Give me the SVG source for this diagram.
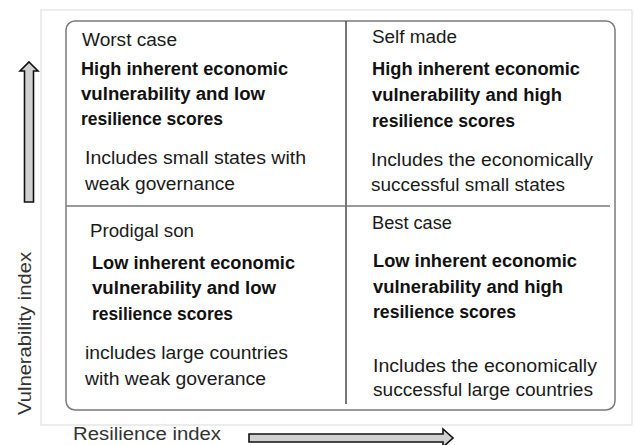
<svg xmlns="http://www.w3.org/2000/svg" width="635" height="445" viewBox="0 0 635 445">
<style>
.t{font-family:"Liberation Sans",Arial,sans-serif;font-size:17.5px;fill:#1a1a1a}
.b{font-weight:bold;fill:#111}
.ax{font-family:"Liberation Sans",Arial,sans-serif;font-size:18px;fill:#333}
.arrow{fill:#d0d0d0;stroke:#111;stroke-width:1.6;stroke-linejoin:miter}
</style>
<rect width="635" height="445" fill="#fff"/>
<rect x="41" y="10" width="591" height="415" fill="none" stroke="#e0e0e0" stroke-width="1.2"/>
<g id="frame">
<rect x="66" y="21" width="549" height="389" rx="9" fill="#fff" stroke="#7a7a7a" stroke-width="1.5"/>
</g>
<g id="connectors">
<line x1="346" y1="21" x2="346" y2="404" stroke="#555" stroke-width="1.6"/>
<line x1="66" y1="206" x2="610" y2="206" stroke="#777" stroke-width="1.6"/>
<polygon class="arrow" points="29,62 38,71 33.5,71 33.5,202 24.5,202 24.5,71 20,71"/>
<polygon class="arrow" points="249,434 443,434 443,429 453,438 443,447 443,442 249,442"/>
</g>
<g id="worst">
<text class="t" x="82" y="46" textLength="95" lengthAdjust="spacingAndGlyphs">Worst case</text>
<text class="t b" x="81" y="75" textLength="207" lengthAdjust="spacingAndGlyphs">High inherent economic</text>
<text class="t b" x="81" y="100" textLength="184" lengthAdjust="spacingAndGlyphs">vulnerability and low</text>
<text class="t b" x="81" y="125" textLength="142" lengthAdjust="spacingAndGlyphs">resilience scores</text>
<text class="t" x="85" y="164" textLength="221" lengthAdjust="spacingAndGlyphs">Includes small states with</text>
<text class="t" x="85" y="190" textLength="150" lengthAdjust="spacingAndGlyphs">weak governance</text>
</g>
<g id="selfmade">
<text class="t" x="372" y="43" textLength="85" lengthAdjust="spacingAndGlyphs">Self made</text>
<text class="t b" x="372" y="75" textLength="208" lengthAdjust="spacingAndGlyphs">High inherent economic</text>
<text class="t b" x="372" y="101" textLength="190" lengthAdjust="spacingAndGlyphs">vulnerability and high</text>
<text class="t b" x="372" y="127" textLength="143" lengthAdjust="spacingAndGlyphs">resilience scores</text>
<text class="t" x="371" y="166" textLength="222" lengthAdjust="spacingAndGlyphs">Includes the economically</text>
<text class="t" x="371" y="191" textLength="194" lengthAdjust="spacingAndGlyphs">successful small states</text>
</g>
<g id="prodigal">
<text class="t" x="90" y="237" textLength="104" lengthAdjust="spacingAndGlyphs">Prodigal son</text>
<text class="t b" x="92" y="269" textLength="203" lengthAdjust="spacingAndGlyphs">Low inherent economic</text>
<text class="t b" x="92" y="294" textLength="184" lengthAdjust="spacingAndGlyphs">vulnerability and low</text>
<text class="t b" x="92" y="320" textLength="141" lengthAdjust="spacingAndGlyphs">resilience scores</text>
<text class="t" x="85" y="359" textLength="203" lengthAdjust="spacingAndGlyphs">includes large countries</text>
<text class="t" x="85" y="385" textLength="181" lengthAdjust="spacingAndGlyphs">with weak goverance</text>
</g>
<g id="best">
<text class="t" x="372" y="229" textLength="80" lengthAdjust="spacingAndGlyphs">Best case</text>
<text class="t b" x="373" y="267" textLength="204" lengthAdjust="spacingAndGlyphs">Low inherent economic</text>
<text class="t b" x="373" y="293" textLength="190" lengthAdjust="spacingAndGlyphs">vulnerability and high</text>
<text class="t b" x="373" y="318" textLength="143" lengthAdjust="spacingAndGlyphs">resilience scores</text>
<text class="t" x="373" y="372" textLength="224" lengthAdjust="spacingAndGlyphs">Includes the economically</text>
<text class="t" x="373" y="396" textLength="220" lengthAdjust="spacingAndGlyphs">successful large countries</text>
</g>
<g id="axes">
<text class="ax" transform="translate(31,415) rotate(-90)" textLength="163" lengthAdjust="spacingAndGlyphs">Vulnerability index</text>
<text class="ax" x="73" y="440" font-size="16.5" textLength="148" lengthAdjust="spacingAndGlyphs">Resilience index</text>
</g>
</svg>
